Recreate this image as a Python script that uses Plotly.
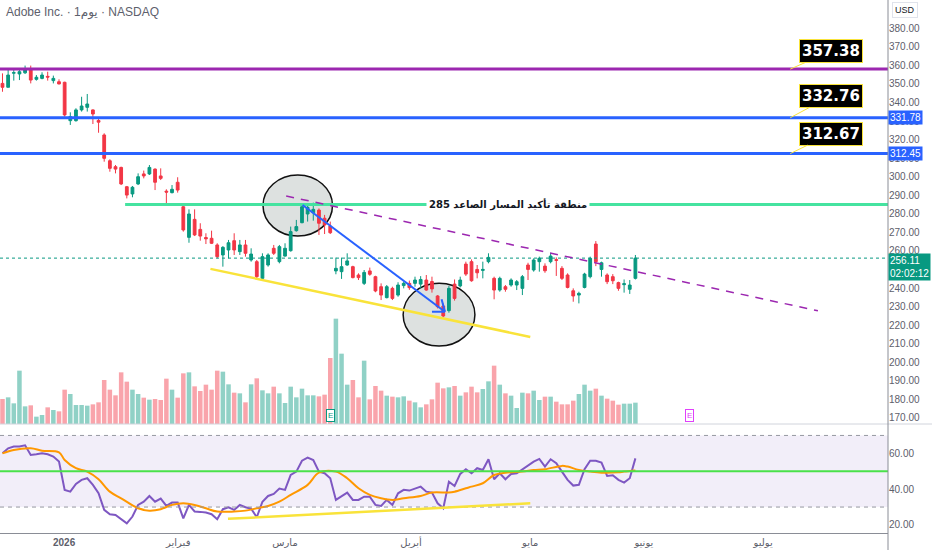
import plotly.graph_objects as go

# daily bars, index 0 = first session visible on the left (late Dec 2025)
opens = [350.3, 348.2, 355.8, 355.4, 356.0, 357.9, 352.5, 353.0, 354.1, 351.8,
         351.2, 350.9, 330.2, 330.2, 336.0, 337.4, 336.0, 330.3, 322.5, 308.6,
         305.4, 305.0, 294.6, 290.7, 296.1, 301.5, 301.5, 304.1, 300.4, 292.2,
         291.4, 297.0, 283.8, 267.3, 277.0, 271.6, 267.2, 266.8, 263.2, 257.8,
         260.5, 265.5, 259.6, 263.2, 255.1, 254.2, 245.2, 252.4, 261.4, 254.2,
         257.2, 260.1, 270.9, 275.2, 279.9, 280.6, 282.0, 277.6, 273.4, 249.2,
         248.8, 252.4, 251.5, 247.0, 242.5, 249.2, 246.1, 240.7, 234.8, 239.8,
         236.2, 241.3, 242.5, 242.5, 242.1, 244.3, 243.5, 235.7, 230.3, 227.8,
         242.1, 241.1, 252.9, 254.2, 250.0, 249.5, 254.2, 245.2, 238.9, 240.7,
         241.6, 241.6, 239.8, 252.4, 249.7, 254.2, 251.8, 254.2, 255.3, 250.6,
         247.0, 238.5, 236.2, 240.3, 246.1, 263.7, 250.0, 247.0, 246.1, 242.9,
         241.8, 239.3, 245.2]
highs = [355.7, 358.4, 358.4, 358.4, 359.9, 359.9, 354.8, 356.3, 356.6, 354.5,
         352.5, 351.2, 334.7, 336.9, 343.1, 344.6, 336.3, 331.1, 323.4, 309.4,
         306.3, 305.4, 295.0, 295.0, 301.8, 303.3, 306.3, 304.5, 304.5, 293.2,
         295.5, 299.7, 285.3, 282.4, 282.4, 274.9, 269.5, 270.9, 264.1, 262.6,
         265.9, 269.5, 265.9, 265.9, 261.4, 255.1, 258.7, 258.7, 263.2, 263.2,
         264.1, 273.1, 276.7, 285.3, 284.2, 286.0, 282.9, 279.4, 275.8, 256.4,
         256.4, 258.7, 252.0, 247.9, 249.7, 251.0, 246.6, 242.5, 241.6, 240.7,
         243.1, 243.4, 244.0, 246.1, 246.4, 247.0, 246.1, 236.2, 231.7, 241.1,
         244.6, 246.1, 254.2, 255.4, 252.4, 254.2, 258.7, 246.1, 246.1, 241.6,
         245.2, 244.3, 247.0, 253.6, 256.0, 256.9, 253.3, 259.0, 256.5, 251.8,
         247.9, 239.8, 238.0, 248.2, 256.9, 265.3, 254.2, 247.9, 247.5, 243.4,
         244.6, 244.3, 257.8]
lows = [345.8, 348.2, 351.8, 352.1, 355.4, 350.3, 351.8, 352.5, 351.8, 350.3,
        349.8, 332.4, 327.9, 329.7, 335.1, 335.1, 328.4, 323.7, 308.1, 302.7,
        301.8, 295.5, 288.3, 288.9, 295.5, 299.1, 300.9, 292.8, 298.2, 284.7,
        291.0, 291.4, 270.4, 264.4, 268.0, 265.5, 263.7, 263.7, 256.0, 251.5,
        256.0, 257.8, 257.8, 256.9, 254.2, 245.2, 244.3, 251.5, 257.8, 253.3,
        256.9, 259.6, 270.4, 274.9, 275.8, 276.3, 268.6, 269.1, 269.1, 247.4,
        244.9, 252.0, 245.2, 244.3, 241.6, 246.6, 237.7, 233.5, 234.4, 233.5,
        235.3, 239.8, 239.0, 240.7, 239.8, 238.5, 237.5, 229.0, 224.2, 226.7,
        233.2, 240.3, 246.5, 243.4, 245.2, 245.2, 253.3, 233.9, 238.0, 238.0,
        240.7, 238.9, 236.2, 244.3, 248.8, 248.8, 248.2, 253.3, 246.5, 244.3,
        239.8, 232.6, 231.7, 239.8, 245.2, 251.8, 246.1, 242.1, 242.1, 238.5,
        237.5, 236.8, 244.6]
closes = [348.2, 354.8, 356.1, 356.6, 357.9, 352.1, 353.6, 354.8, 353.7, 353.0,
          350.0, 333.3, 332.4, 336.0, 338.1, 339.2, 333.8, 329.4, 309.9, 304.5,
          304.1, 296.1, 290.1, 294.3, 300.0, 300.4, 305.0, 297.0, 299.1, 291.7,
          293.2, 292.8, 271.3, 279.9, 268.6, 268.0, 266.5, 264.1, 256.9, 261.9,
          264.4, 260.5, 263.2, 258.7, 258.3, 246.1, 256.9, 257.8, 258.7, 262.3,
          261.4, 270.4, 273.1, 283.8, 283.5, 282.4, 274.9, 274.0, 269.8, 250.6,
          251.5, 254.6, 245.6, 245.6, 248.4, 247.4, 238.4, 236.2, 240.7, 234.4,
          241.6, 242.5, 240.2, 244.3, 244.6, 238.9, 239.5, 229.9, 224.9, 239.8,
          234.4, 244.3, 247.5, 243.9, 248.2, 250.0, 256.5, 238.9, 245.2, 239.3,
          244.3, 243.4, 246.1, 250.0, 255.1, 256.0, 249.3, 257.2, 254.9, 245.2,
          240.3, 235.7, 237.1, 247.5, 256.0, 254.2, 253.6, 243.4, 243.9, 239.8,
          242.3, 241.6, 256.11]
# volume in millions of shares
volumes = [3.75, 4.0, 3.1, 8.0, 2.65, 2.8, 1.1, 1.35, 2.5, 2.1,
           1.9, 5.15, 4.5, 2.85, 2.85, 2.75, 2.95, 3.25, 6.6, 5.15,
           4.3, 7.75, 6.35, 5.15, 4.5, 3.95, 3.65, 3.75, 3.6, 6.8,
           5.15, 3.95, 7.6, 7.75, 5.65, 4.95, 5.9, 5.15, 8.0, 7.85,
           5.95, 4.7, 4.6, 3.25, 5.95, 6.85, 5.05, 4.6, 5.6, 4.6,
           3.15, 5.6, 4.0, 5.3, 4.3, 4.3, 4.15, 4.4, 9.9, 15.8,
           10.55, 5.9, 6.6, 4.0, 9.5, 3.7, 5.7, 5.0, 4.25, 4.1,
           4.0, 4.15, 3.5, 3.25, 2.5, 2.95, 3.7, 6.2, 5.35, 5.5,
           5.7, 4.25, 4.75, 5.6, 4.75, 5.25, 6.4, 8.75, 5.9, 4.6,
           4.25, 2.4, 4.7, 4.6, 5.0, 3.6, 4.1, 4.1, 3.35, 2.95,
           2.95, 3.5, 4.5, 5.9, 5.0, 5.3, 4.25, 3.8, 3.5, 2.9,
           3.05, 3.05, 3.2]
rsi = [60.0, 62.8, 63.8, 63.8, 64.5, 59.1, 59.5, 60.0, 59.5, 58.2,
       55.4, 39.6, 38.6, 42.9, 45.2, 46.1, 42.4, 37.7, 28.4, 26.0,
       25.6, 23.2, 20.9, 24.7, 31.2, 33.0, 36.2, 33.0, 34.7, 30.6,
       32.5, 32.5, 23.7, 31.2, 27.5, 27.3, 26.9, 26.0, 23.2, 28.8,
       29.9, 28.4, 31.2, 29.9, 29.1, 24.3, 33.0, 36.2, 37.3, 40.3,
       39.6, 47.9, 49.8, 55.9, 57.6, 56.3, 49.8, 48.9, 46.1, 34.0,
       36.2, 38.1, 34.0, 34.0, 35.8, 35.8, 31.2, 30.6, 34.0, 31.2,
       37.7, 39.6, 39.2, 40.5, 41.4, 38.6, 38.1, 32.1, 29.3, 44.2,
       41.8, 48.5, 51.1, 48.9, 51.7, 50.7, 56.7, 45.5, 48.9, 45.5,
       48.5, 48.9, 51.1, 53.5, 55.4, 56.9, 52.6, 56.7, 54.5, 49.8,
       45.2, 42.0, 42.4, 51.1, 55.9, 55.9, 54.8, 47.4, 47.8, 45.2,
       43.7, 46.1, 57.2]
rsi_ma_bar = [0, 2, 5, 7, 10, 11, 13, 15, 17, 19, 21, 24, 26, 28, 30, 32, 34, 36,
              38, 41, 43, 45, 47, 49, 51, 54, 56, 59, 61, 63, 65, 67, 69, 71, 74,
              76, 79, 80, 82, 83, 85, 87, 89, 92, 94, 96, 99, 100, 102, 104, 106,
              109, 110, 112]
rsi_ma = [60.0, 61.9, 62.8, 61.5, 60.6, 56.3, 51.7, 49.8, 45.5, 38.6, 34.9, 29.3,
          28.0, 28.8, 31.2, 32.1, 31.2, 29.3, 27.5, 27.5, 28.0, 29.3, 30.6, 33.0,
          36.8, 42.4, 49.2, 49.8, 46.1, 40.5, 36.8, 34.9, 34.0, 34.9, 36.2, 38.1,
          38.1, 38.6, 40.5, 41.4, 43.3, 47.9, 49.2, 49.8, 50.7, 51.1, 53.0, 52.6,
          50.7, 49.8, 49.2, 49.4, 49.8, 50.4]

month_bar = [10.9, 31.1, 50.0, 72.3, 93.4, 113.5, 134.6]
month_text = ["<b>2026</b>", "فبراير", "مارس", "أبريل", "مايو", "يونيو", "يوليو"]
price_ticks = [170, 180, 190, 200, 210, 220, 230, 240, 250, 260, 270,
               280, 290, 300, 310, 320, 330, 340, 350, 360, 370, 380]
rsi_ticks = [20, 40, 60]

# drawings (bar index, price)
level_prices = [358.0, 331.78, 312.45]
level_colors = ["#9c27b0", "#2962ff", "#2962ff"]
callout_text = ["357.38", "332.76", "312.67"]
callout_dy = [-18, -22, -20]
zone_price = 285
zone_start = 21.7
zone_text = "منطقة تأكيد المسار الصاعد 285"
support_line = [(36.8, 250.3), (93.4, 213.6)]
down_line = [(50.2, 289.6), (144.3, 227.7)]
arrow_line = [(53.1, 284.75), (78.3, 227.2)]
arrow_wings = [(76.0, 227.2), (77.7, 233.9)]
circles = [(46.1, 58.4, 268.0, 300.9), (70.9, 83.6, 208.7, 242.5)]
rsi_support = [(39.9, 23.4), (93.4, 32.1)]
earnings = [(58.1, "#089981"), (121.5, "#e040fb")]

UP = "#089981"
DOWN = "#f23645"
X_RANGE = [-0.44, 156.7]
bars = list(range(len(closes)))
vol_colors = ["rgba(8,153,129,0.45)" if c >= o else "rgba(242,54,69,0.45)"
              for o, c in zip(opens, closes)]

fig = go.Figure()
fig.add_trace(go.Bar(x=bars, y=volumes, yaxis="y3", width=0.8,
                     marker=dict(color=vol_colors, line=dict(width=0))))
fig.add_trace(go.Candlestick(x=bars, open=opens, high=highs, low=lows, close=closes,
                             increasing=dict(line=dict(color=UP, width=1), fillcolor=UP),
                             decreasing=dict(line=dict(color=DOWN, width=1), fillcolor=DOWN),
                             whiskerwidth=0))
fig.add_trace(go.Scatter(x=bars, y=rsi, yaxis="y2", mode="lines",
                         line=dict(color="#7e57c2", width=2)))
fig.add_trace(go.Scatter(x=rsi_ma_bar, y=rsi_ma, yaxis="y2", mode="lines",
                         line=dict(color="#ff9800", width=2, shape="spline")))

shapes = []
# rsi band
shapes.append(dict(type="rect", xref="paper", yref="y2", x0=0, x1=1, y0=30, y1=70,
                   fillcolor="rgba(126,87,194,0.1)", line=dict(width=0), layer="below"))
for lv in (70, 30):
    shapes.append(dict(type="line", xref="paper", yref="y2", x0=0, x1=1, y0=lv, y1=lv,
                       line=dict(color="#9598a1", width=1, dash="4px,4px")))
shapes.append(dict(type="line", xref="paper", yref="y2", x0=0, x1=1, y0=50, y1=50,
                   line=dict(color="#4ae14a", width=2)))
shapes.append(dict(type="line", xref="x", yref="y2",
                   x0=rsi_support[0][0], y0=rsi_support[0][1],
                   x1=rsi_support[1][0], y1=rsi_support[1][1],
                   line=dict(color="#f9e33a", width=2.5)))
# circles
for x0, x1, y0, y1 in circles:
    shapes.append(dict(type="circle", xref="x", yref="y", x0=x0, x1=x1, y0=y0, y1=y1,
                       fillcolor="#dde1e0", line=dict(color="#111111", width=1.5),
                       layer="below"))
# levels
for p, col in zip(level_prices, level_colors):
    shapes.append(dict(type="line", xref="paper", yref="y", x0=0, x1=1, y0=p, y1=p,
                       line=dict(color=col, width=3)))
shapes.append(dict(type="line", xref="x", yref="y", x0=zone_start, x1=X_RANGE[1],
                   y0=zone_price, y1=zone_price, line=dict(color="#45e3a0", width=3)))
shapes.append(dict(type="line", xref="paper", yref="y", x0=0, x1=1,
                   y0=closes[-1], y1=closes[-1],
                   line=dict(color="#089981", width=1, dash="dot")))
for (ax0, ay0), (ax1, ay1), col, w, dash in [
        (support_line[0], support_line[1], "#f9e33a", 2.5, "solid"),
        (down_line[0], down_line[1], "#9c27b0", 1.5, "8px,7px"),
        (arrow_line[0], arrow_line[1], "#2962ff", 2, "solid")]:
    shapes.append(dict(type="line", xref="x", yref="y", x0=ax0, y0=ay0, x1=ax1, y1=ay1,
                       line=dict(color=col, width=w, dash=dash)))
for wx, wy in arrow_wings:
    shapes.append(dict(type="line", xref="x", yref="y", x0=arrow_line[1][0],
                       y0=arrow_line[1][1], x1=wx, y1=wy,
                       line=dict(color="#2962ff", width=2)))
# pane separator and axis border
shapes.append(dict(type="line", xref="paper", yref="paper", x0=0, x1=1.05,
                   y0=0.2045, y1=0.2045, line=dict(color="#d1d4dc", width=1)))
shapes.append(dict(type="line", xref="paper", yref="paper", x0=1, x1=1,
                   y0=-0.032, y1=1, line=dict(color="#8a8d96", width=1)))

annotations = []
# LRM keeps the "1" on the left of the arabic word, as in the tradingview header
annotations.append(dict(xref="paper", yref="paper", x=0.004, y=0.995, xanchor="left",
                        yanchor="top", showarrow=False,
                        text="Adobe Inc. · 1\u200eيوم · NASDAQ",
                        font=dict(size=12, color="#5d606b")))
annotations.append(dict(xref="paper", yref="paper", x=1.004, y=0.997, xanchor="left",
                        yanchor="top", showarrow=False, text="USD",
                        font=dict(size=9, color="#131722"), bgcolor="white",
                        bordercolor="#e0e3eb", borderwidth=1, borderpad=2))
for p, t, dy in zip(level_prices, callout_text, callout_dy):
    annotations.append(dict(xref="x", yref="y", x=139.4, y=p, ax=41, ay=dy,
                            text="<b>" + t + "</b>", showarrow=True, arrowhead=0,
                            arrowcolor="#f9e33a", arrowwidth=1,
                            font=dict(size=15, color="white", family="DejaVu Sans"),
                            bgcolor="black", bordercolor="#f9e33a", borderwidth=1,
                            borderpad=2))
for p in level_prices[1:]:
    annotations.append(dict(xref="paper", yref="y", x=1.0, y=p, xanchor="left",
                            showarrow=False, text=f"{p:.2f}",
                            font=dict(size=10, color="white"), bgcolor="#2962ff",
                            borderpad=1))
annotations.append(dict(xref="paper", yref="y", x=1.0, y=closes[-1] + 2.7,
                        xanchor="left", yanchor="top", showarrow=False,
                        text=f"{closes[-1]:.2f}<br>02:02:12", align="left",
                        font=dict(size=10, color="white"), bgcolor="#089981",
                        borderpad=1))
annotations.append(dict(xref="x", yref="y", x=89.4, y=zone_price, showarrow=False,
                        text="<b>" + zone_text + "</b>",
                        font=dict(size=10, color="#131722", family="DejaVu Sans"),
                        bgcolor="white", borderpad=2))
for ex, col in earnings:
    annotations.append(dict(xref="x", yref="y", x=ex, y=171.3, showarrow=False,
                            text="E", font=dict(size=8, color=col), bgcolor="white",
                            bordercolor=col, borderwidth=1, borderpad=1))

fig.update_layout(
    width=932, height=550,
    margin=dict(l=0, r=44, t=0, b=17),
    paper_bgcolor="white", plot_bgcolor="white",
    showlegend=False,
    font=dict(family="Liberation Sans, DejaVu Sans", size=10, color="#434651"),
    shapes=shapes, annotations=annotations,
    xaxis=dict(domain=[0, 1], range=X_RANGE, anchor="y2", tickvals=month_bar,
               ticktext=month_text, showgrid=False, zeroline=False, showline=True,
               linecolor="#8a8d96", ticks="", rangeslider=dict(visible=False),
               tickfont=dict(size=10, color="#5d606b"), automargin=False),
    yaxis=dict(domain=[0.2045, 1], range=[166.68, 395.26], side="right",
               tickvals=price_ticks, tickformat=".2f", showgrid=False, zeroline=False,
               ticks="", automargin=False, tickfont=dict(size=10, color="#5d606b")),
    yaxis2=dict(domain=[0, 0.2045], range=[15.5, 76.4], side="right",
                tickvals=rsi_ticks, tickformat=".2f", showgrid=False,
                zeroline=False, ticks="", automargin=False,
                tickfont=dict(size=10, color="#5d606b")),
    yaxis3=dict(overlaying="y", range=[0, 63.6], visible=False),
)

# page body has a default 8px margin; drop it so the 932x550 figure fills the window
fig.write_html("out.html", config={"displayModeBar": False},
               post_script="document.body.style.margin='0';")
